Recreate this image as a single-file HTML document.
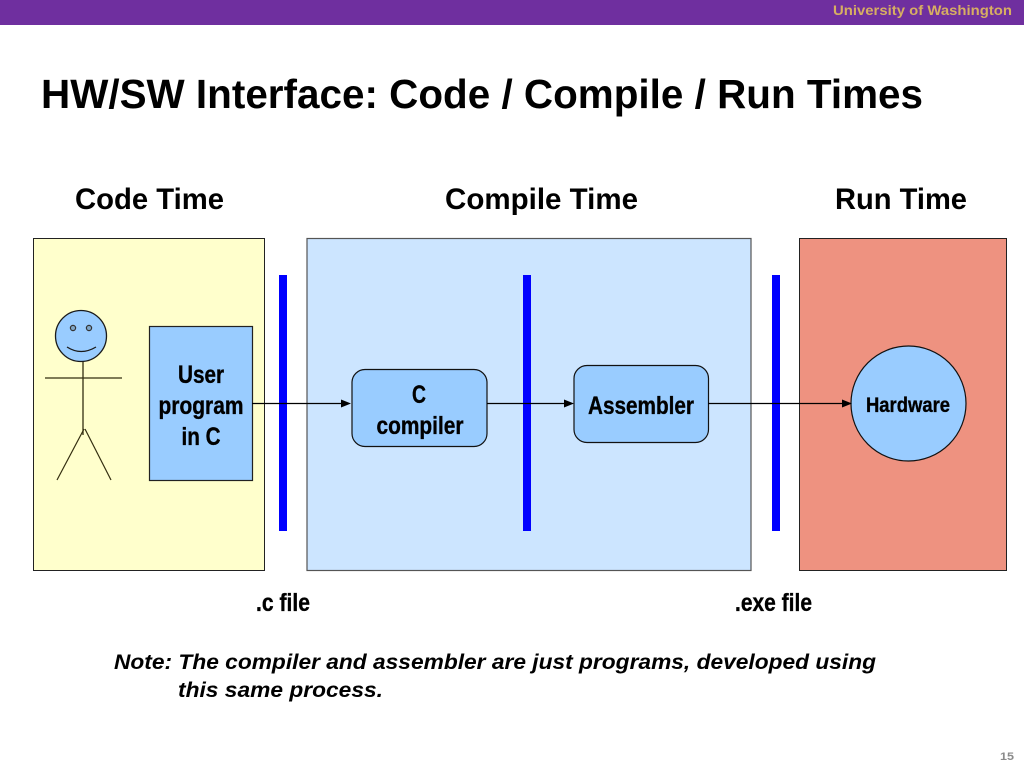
<!DOCTYPE html>
<html>
<head>
<meta charset="utf-8">
<style>
html,body{margin:0;padding:0;background:#fff;width:1024px;height:768px;overflow:hidden}
svg{display:block}
text{font-family:"Liberation Sans",sans-serif;font-weight:bold;fill:#000}
.h{stroke:#000;stroke-width:.35px}
</style>
</head>
<body>
<svg width="1024" height="768" viewBox="0 0 1024 768" xmlns="http://www.w3.org/2000/svg">
<rect x="0" y="0" width="1024" height="25" fill="#6f2f9f"/>
<text x="833" y="15" font-size="14" style="fill:#d7ae62" textLength="179" lengthAdjust="spacingAndGlyphs">University of Washington</text>
<text x="41" y="108" font-size="41" textLength="882" lengthAdjust="spacingAndGlyphs">HW/SW Interface: Code / Compile / Run Times</text>
<text x="75" y="209" font-size="30" textLength="149" lengthAdjust="spacingAndGlyphs">Code Time</text>
<text x="445" y="209" font-size="30" textLength="193" lengthAdjust="spacingAndGlyphs">Compile Time</text>
<text x="835" y="209" font-size="30" textLength="132" lengthAdjust="spacingAndGlyphs">Run Time</text>

<rect x="33.5" y="238.5" width="231" height="332" fill="#ffffcc" stroke="#222" stroke-width="1"/>
<rect x="307" y="238.5" width="444" height="332" fill="#cce5ff" stroke="#555" stroke-width="1.2"/>
<rect x="799.5" y="238.5" width="207" height="332" fill="#ee9280" stroke="#222" stroke-width="1"/>

<rect x="279" y="275" width="8" height="256" fill="#0000ff"/>
<rect x="523" y="275" width="8" height="256" fill="#0000ff"/>
<rect x="772" y="275" width="8" height="256" fill="#0000ff"/>

<!-- Stick figure -->
<circle cx="81" cy="336" r="25.5" fill="#99ccff" stroke="#1a1a1a" stroke-width="1.3"/>
<circle cx="73" cy="328" r="2.6" fill="#7fa6c8" stroke="#333" stroke-width="1.2"/>
<circle cx="89" cy="328" r="2.6" fill="#7fa6c8" stroke="#333" stroke-width="1.2"/>
<path d="M67 347 Q81 356 96 347" fill="none" stroke="#1a1a1a" stroke-width="1.3"/>
<path d="M83 362 V435" fill="none" stroke="#332e10" stroke-width="1.3"/>
<path d="M45 378 H122" fill="none" stroke="#332e10" stroke-width="1.3"/>
<path d="M84 429 L57 480" fill="none" stroke="#332e10" stroke-width="1.2"/>
<path d="M85 429 L111 480" fill="none" stroke="#332e10" stroke-width="1.2"/>

<!-- Boxes -->
<rect x="149.5" y="326.5" width="103" height="154" fill="#99ccff" stroke="#222" stroke-width="1.2"/>
<text class="h" x="201" y="383" font-size="25" text-anchor="middle" textLength="46" lengthAdjust="spacingAndGlyphs">User</text>
<text class="h" x="201" y="414" font-size="25" text-anchor="middle" textLength="85" lengthAdjust="spacingAndGlyphs">program</text>
<text class="h" x="201" y="445" font-size="25" text-anchor="middle" textLength="39" lengthAdjust="spacingAndGlyphs">in C</text>

<rect x="352" y="369.5" width="135" height="77" rx="13" ry="13" fill="#99ccff" stroke="#111" stroke-width="1.2"/>
<text class="h" x="419" y="403" font-size="25" text-anchor="middle" textLength="14" lengthAdjust="spacingAndGlyphs">C</text>
<text class="h" x="420" y="434" font-size="25" text-anchor="middle" textLength="87" lengthAdjust="spacingAndGlyphs">compiler</text>

<rect x="574" y="365.5" width="134.5" height="77" rx="13" ry="13" fill="#99ccff" stroke="#111" stroke-width="1.2"/>
<text class="h" x="641" y="414" font-size="25" text-anchor="middle" textLength="106" lengthAdjust="spacingAndGlyphs">Assembler</text>

<circle cx="908.5" cy="403.5" r="57.5" fill="#99ccff" stroke="#111" stroke-width="1.2"/>
<text class="h" x="908" y="412" font-size="21" text-anchor="middle" textLength="84" lengthAdjust="spacingAndGlyphs">Hardware</text>

<!-- Connectors -->
<path d="M252 403.5 H343" stroke="#000" stroke-width="1.3" fill="none"/>
<path d="M351 403.5 L341 399.5 V407.5 Z" fill="#000"/>
<path d="M487 403.5 H566" stroke="#000" stroke-width="1.3" fill="none"/>
<path d="M574 403.5 L564 399.5 V407.5 Z" fill="#000"/>
<path d="M708 403.5 H844" stroke="#000" stroke-width="1.3" fill="none"/>
<path d="M852 403.5 L842 399.5 V407.5 Z" fill="#000"/>

<text class="h" x="256" y="611" font-size="25" textLength="54" lengthAdjust="spacingAndGlyphs">.c file</text>
<text class="h" x="735" y="611" font-size="25" textLength="77" lengthAdjust="spacingAndGlyphs">.exe file</text>

<text x="114" y="669" font-size="21.5" font-style="italic" textLength="762" lengthAdjust="spacingAndGlyphs">Note: The compiler and assembler are just programs, developed using</text>
<text x="178" y="697" font-size="21.5" font-style="italic" textLength="205" lengthAdjust="spacingAndGlyphs">this same process.</text>

<text x="1000" y="760" font-size="11" style="fill:#8a8a8a" textLength="14" lengthAdjust="spacingAndGlyphs">15</text>
</svg>
</body>
</html>
